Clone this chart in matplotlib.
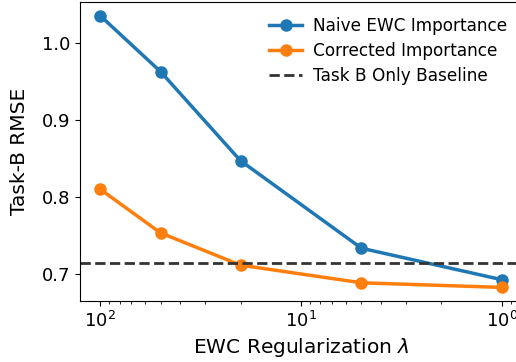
import matplotlib
matplotlib.use("Agg")
import matplotlib.pyplot as plt
from matplotlib.ticker import MultipleLocator

lambdas = [100, 50, 20, 5, 1]
naive = [1.036, 0.963, 0.847, 0.733, 0.692]
corrected = [0.810, 0.753, 0.711, 0.688, 0.682]
baseline = 0.714

W, H = 516, 362
fig = plt.figure(figsize=(W/100, H/100), dpi=100)
ax = fig.add_axes([80/W, 1-301/H, 442/W, 299/H])
ax.plot(lambdas, naive, '-o', color='#1f77b4', lw=2.5, ms=8, label='Naive EWC Importance')
ax.plot(lambdas, corrected, '-o', color='#ff7f0e', lw=2.5, ms=8, label='Corrected Importance')
ax.axhline(baseline, color='#333333', ls='--', lw=2, label='Task B Only Baseline')
ax.set_xscale('log')
ax.invert_xaxis()
ax.yaxis.set_major_locator(MultipleLocator(0.1))
ax.set_xlabel(r'EWC Regularization $\lambda$', fontsize=14.5)
ax.set_ylabel('Task-B RMSE', fontsize=14.5, labelpad=9)
ax.tick_params(labelsize=13)
ax.legend(frameon=False, fontsize=12.2, loc='upper right', borderaxespad=0.5,
          labelspacing=0.4, handletextpad=0.6)
fig.savefig('out.png', dpi=100)
